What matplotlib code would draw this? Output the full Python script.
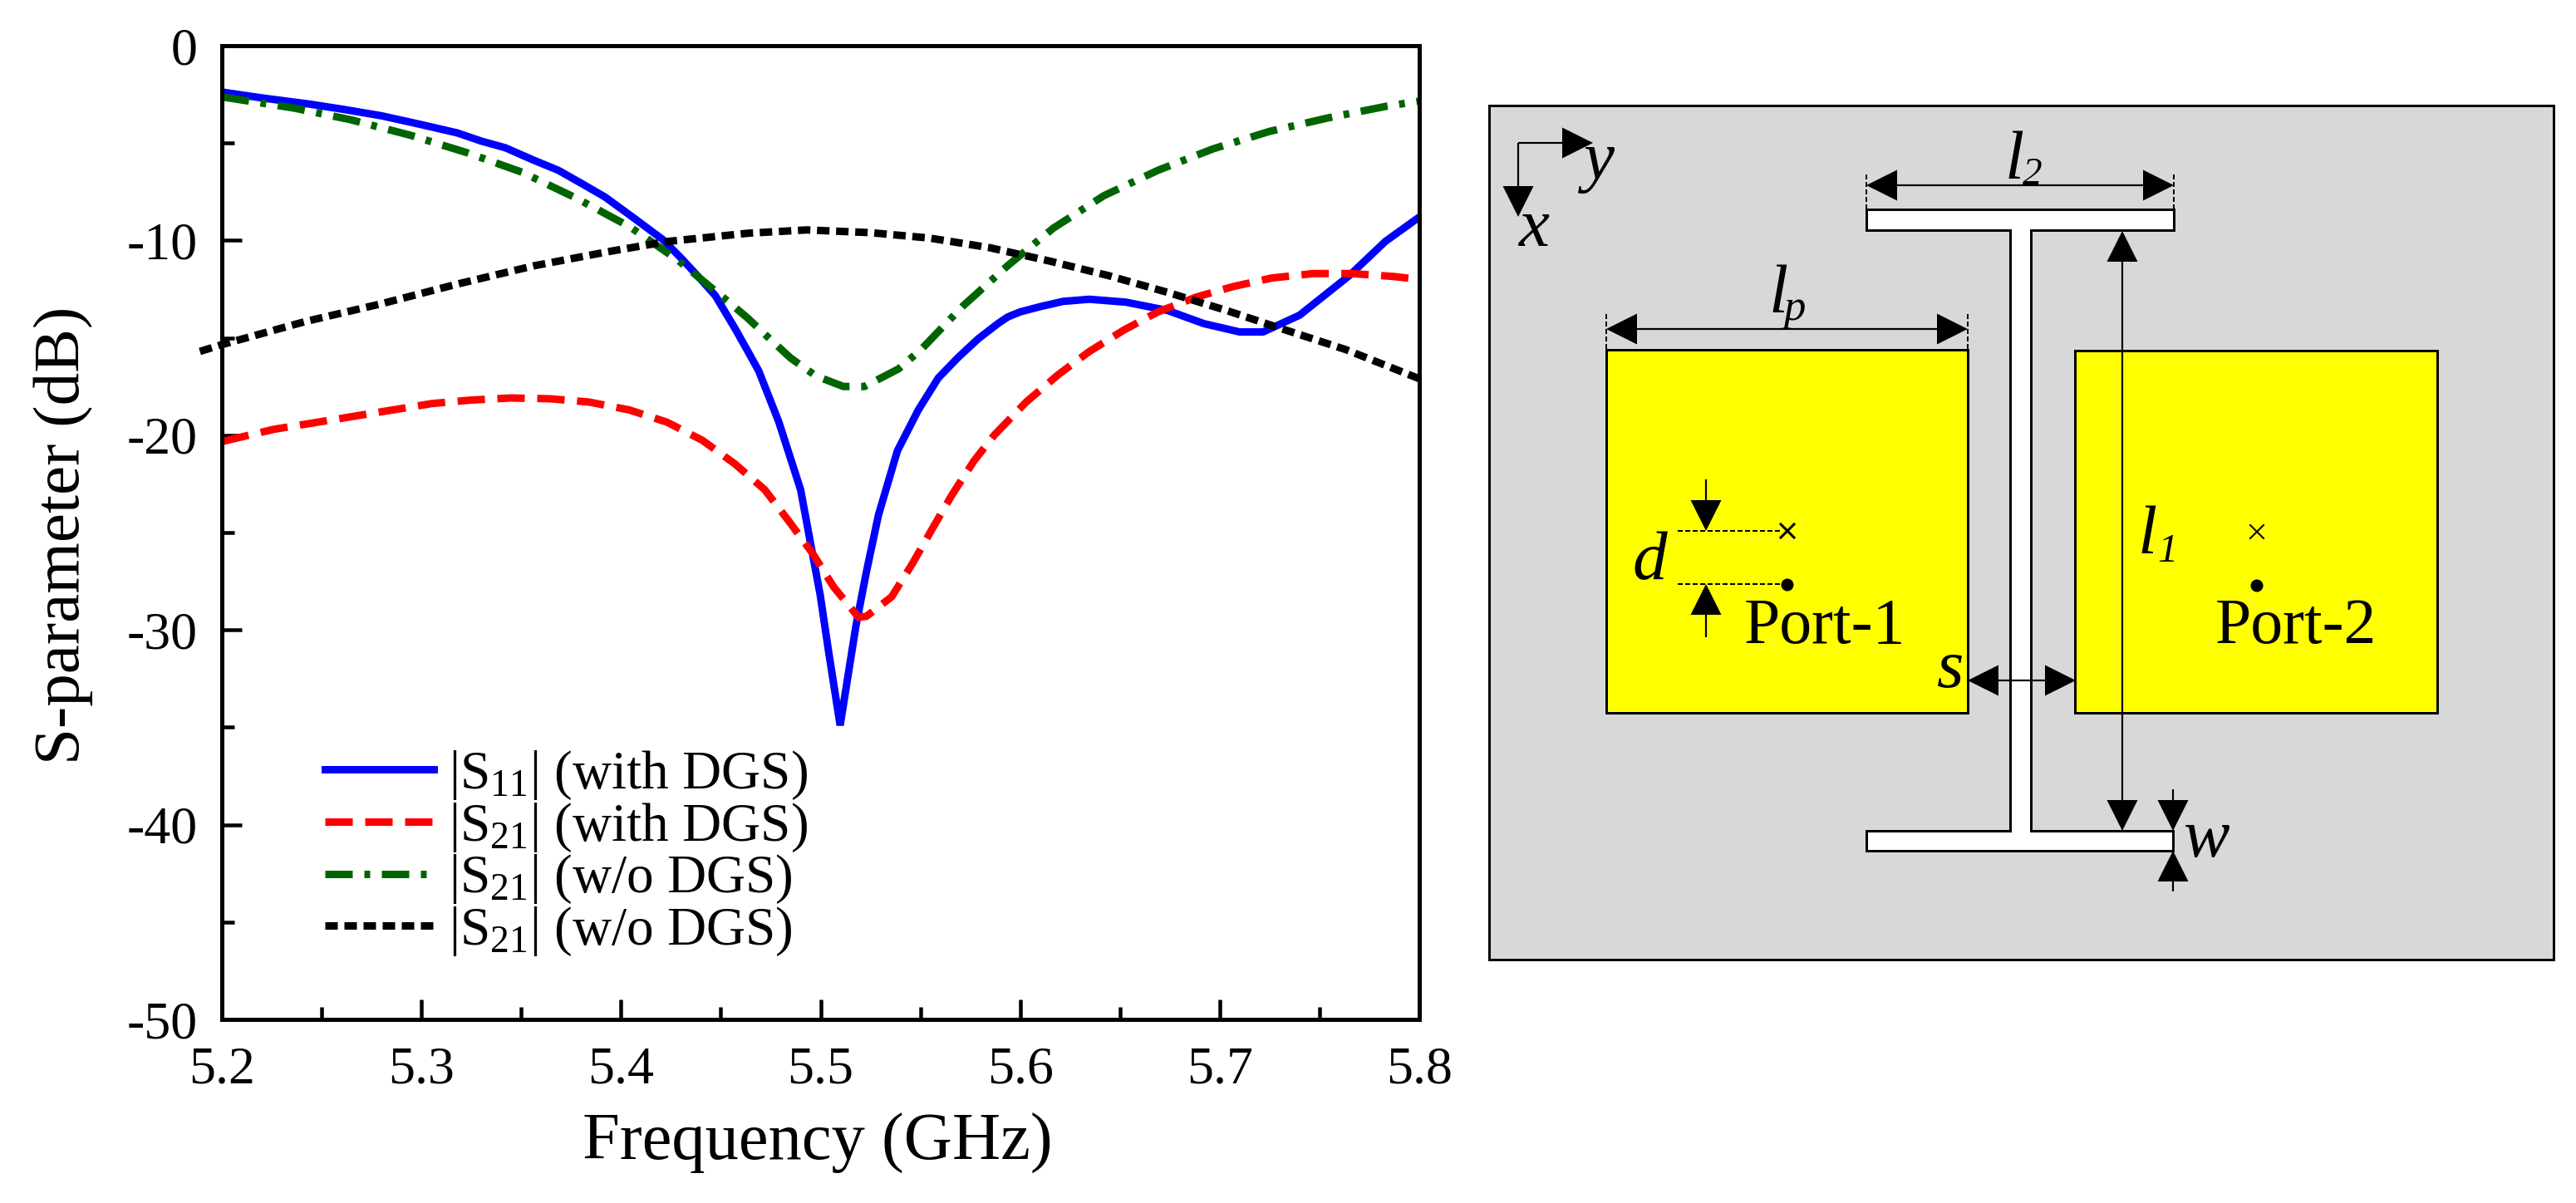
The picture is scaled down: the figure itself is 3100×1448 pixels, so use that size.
import matplotlib
matplotlib.use('Agg')
import matplotlib.pyplot as plt
from matplotlib.patches import Rectangle, Polygon, Circle
from matplotlib.ticker import MultipleLocator

plt.rcParams['font.family'] = ['Liberation Serif', 'DejaVu Serif']
plt.rcParams['mathtext.fontset'] = 'custom'
plt.rcParams['mathtext.rm'] = 'Liberation Serif'
plt.rcParams['mathtext.it'] = 'Liberation Serif:italic'
plt.rcParams['mathtext.default'] = 'rm'
plt.rcParams['axes.unicode_minus'] = False
plt.rcParams['lines.scale_dashes'] = False

W, H = 3100, 1448
PX = 0.72  # points per pixel at dpi 100

# curves
s11_f = [5.2, 5.22, 5.244, 5.261, 5.28, 5.299, 5.318, 5.33, 5.342, 5.3565, 5.3686, 5.38, 5.392, 5.4067, 5.421,
         5.4307, 5.44, 5.4473, 5.457, 5.4636, 5.469, 5.479, 5.49, 5.4956, 5.4998, 5.504, 5.5098, 5.5177, 5.523,
         5.529, 5.5385, 5.549, 5.559, 5.569, 5.579, 5.589, 5.5938, 5.6, 5.61, 5.6215, 5.6347, 5.653, 5.674,
         5.692, 5.71, 5.7217, 5.74, 5.765, 5.783, 5.8]
s11_db = [-2.38, -2.68, -3.0, -3.27, -3.6, -4.03, -4.48, -4.9, -5.24, -5.89, -6.4, -7.06, -7.77, -8.87, -9.96,
          -10.97, -12.0, -12.84, -14.5, -15.7, -16.7, -19.3, -22.8, -25.9, -28.2, -31.1, -34.9, -29.8, -27.0,
          -24.1, -20.8, -18.7, -17.06, -16.0, -15.05, -14.26, -13.93, -13.67, -13.4, -13.13, -13.02, -13.17, -13.6,
          -14.27, -14.7, -14.7, -13.84, -11.8, -10.05, -8.8]

s21_dgs_f = [5.2, 5.226, 5.265, 5.305, 5.3245, 5.3445, 5.3645, 5.384, 5.404, 5.423, 5.4407, 5.457, 5.472,
             5.484, 5.496, 5.5066, 5.519, 5.523, 5.5356, 5.546, 5.556, 5.566, 5.577, 5.587, 5.603, 5.619,
             5.6347, 5.652, 5.669, 5.6885, 5.7067, 5.726, 5.747, 5.766, 5.787, 5.8]
s21_dgs_db = [-20.33, -19.7, -19.05, -18.38, -18.2, -18.09, -18.13, -18.3, -18.7, -19.33, -20.26, -21.47,
              -22.8, -24.4, -26.07, -27.8, -29.35, -29.3, -28.3, -26.6, -24.8, -23.04, -21.3, -20.0, -18.3,
              -16.9, -15.7, -14.6, -13.67, -12.9, -12.37, -11.93, -11.7, -11.7, -11.85, -12.0]

s21_nodgs_f = [5.2, 5.236, 5.2645, 5.2945, 5.323, 5.3505, 5.378, 5.4044, 5.428, 5.4544, 5.4636, 5.474, 5.485,
               5.4977, 5.5114, 5.522, 5.539, 5.5504, 5.571, 5.5937, 5.6166, 5.642, 5.669, 5.6966, 5.725,
               5.7546, 5.784, 5.8]
s21_nodgs_db = [-2.63, -3.2, -3.8, -4.6, -5.5, -6.5, -7.85, -9.3, -10.97, -13.2, -14.0, -15.0, -16.04,
                -16.96, -17.5, -17.5, -16.6, -15.6, -13.4, -11.3, -9.37, -7.7, -6.4, -5.3, -4.4,
                -3.7, -3.1, -2.85]

s21_black_f = [5.189, 5.2, 5.2416, 5.28, 5.318, 5.3565, 5.395, 5.4236, 5.4636, 5.493, 5.525, 5.5547, 5.5846,
               5.6144, 5.644, 5.674, 5.7035, 5.733, 5.763, 5.8]
s21_black_db = [-15.7, -15.35, -14.17, -13.25, -12.24, -11.3, -10.55, -10.05, -9.63, -9.46, -9.6, -9.88,
                -10.37, -11.05, -11.8, -12.67, -13.6, -14.6, -15.6, -17.1]

legend_labels = ['|S$_{11}$| (with DGS)', '|S$_{21}$| (with DGS)', '|S$_{21}$| (w/o DGS)', '|S$_{21}$| (w/o DGS)']

# layout sketch on the right, in picture pixels
board = (1792, 127, 3073, 1155)
patches = [(1933, 421, 2368, 858), (2497, 422, 2933, 858)]
slot = [(2246, 252), (2616, 252), (2616, 277), (2444, 277), (2444, 1000), (2615, 1000), (2615, 1024),
        (2246, 1024), (2246, 1000), (2419, 1000), (2419, 277), (2246, 277)]
# tail, tip of each arrow
arrows = [((1827, 172), (1917, 172)), ((1827, 172), (1827, 261)),
          ((2431, 223), (2246, 223)), ((2431, 223), (2616, 223)),
          ((2150, 396), (1933, 396)), ((2150, 396), (2368, 396)),
          ((2053, 577), (2053, 639)), ((2053, 767), (2053, 703)),
          ((2433, 819), (2368, 819)), ((2433, 819), (2498, 819)),
          ((2554, 640), (2554, 278)), ((2554, 640), (2554, 1000)),
          ((2615, 950), (2615, 1000)), ((2615, 1073), (2615, 1024))]
dashed = [((2246, 210), (2246, 252)), ((2616, 210), (2616, 252)), ((1933, 378), (1933, 421)),
          ((2368, 378), (2368, 421)), ((2019, 639), (2143, 639)), ((2019, 703), (2143, 703))]
feed_x = [(2151, 639, 3.0), (2716, 640, 2.0)]
feed_dot = [(2151, 704), (2716, 705)]
# text, x, baseline y, size
italic_labels = [('y', 1906, 215, 60), ('x', 1827, 296, 60), ('l', 2413, 215, 60), ('2', 2434, 222, 34),
                 ('l', 2129, 376, 60), ('p', 2146, 385, 38), ('d', 1964, 697, 60), ('l', 2573, 666, 60),
                 ('1', 2596, 676, 35), ('s', 2331, 827, 60), ('w', 2628, 1031, 60)]
port_labels = [('Port-1', 2099, 774, 56), ('Port-2', 2666, 774, 56)]


def draw_arrow(ax, tail, tip, head=37, width=37):
    dx, dy = tip[0] - tail[0], tip[1] - tail[1]
    size = (dx ** 2 + dy ** 2) ** 0.5
    ux, uy = dx / size, dy / size
    base = (tip[0] - ux * head, tip[1] - uy * head)
    ax.plot([tail[0], base[0]], [tail[1], base[1]], color='k', lw=2.2 * PX, solid_capstyle='butt')
    ax.add_patch(Polygon([tip, (base[0] - uy * width / 2, base[1] + ux * width / 2),
                          (base[0] + uy * width / 2, base[1] - ux * width / 2)], closed=True, fc='k', ec='none'))


fig = plt.figure(figsize=(W / 100, H / 100), dpi=100, facecolor='white')

# sketch
ax2 = fig.add_axes([0, 0, 1, 1])
ax2.set_xlim(0, W)
ax2.set_ylim(H, 0)
ax2.axis('off')
x0, y0, x1, y1 = board
ax2.add_patch(Rectangle((x0, y0), x1 - x0, y1 - y0, fc='#D8D8D8', ec='k', lw=3 * PX))
for x0, y0, x1, y1 in patches:
    ax2.add_patch(Rectangle((x0, y0), x1 - x0, y1 - y0, fc='#FFFF00', ec='k', lw=3 * PX))
ax2.add_patch(Polygon(slot, closed=True, fc='white', ec='k', lw=3 * PX))
for a, b in dashed:
    ax2.plot([a[0], b[0]], [a[1], b[1]], color='k', lw=2 * PX, ls=(0, (6 * PX, 3 * PX)))
for tail, tip in arrows:
    draw_arrow(ax2, tail, tip)
for x, y, lw in feed_x:
    ax2.plot([x - 8, x + 8], [y - 8, y + 8], color='k', lw=lw * PX)
    ax2.plot([x - 8, x + 8], [y + 8, y - 8], color='k', lw=lw * PX)
for x, y in feed_dot:
    ax2.add_patch(Circle((x, y), 7.5, fc='k', ec='none'))
for txt, x, y, size in italic_labels:
    ax2.text(x, y, txt, fontsize=size, style='italic', ha='left', va='baseline')
for txt, x, y, size in port_labels:
    ax2.text(x, y, txt, fontsize=size, ha='left', va='baseline')

# S-parameter plot
ax = fig.add_axes([267 / W, 1 - 1227 / H, 1441 / W, 1172 / H])
ax.plot(s11_f, s11_db, color='#0000FF', lw=9 * PX, label=legend_labels[0], solid_joinstyle='bevel')
ax.plot(s21_dgs_f, s21_dgs_db, color='#FF0000', lw=9 * PX, ls=(0, (33 * PX, 15 * PX)), label=legend_labels[1])
ax.plot(s21_nodgs_f, s21_nodgs_db, color='#006400', lw=9 * PX,
        ls=(0, (33 * PX, 14 * PX, 7 * PX, 14 * PX)), label=legend_labels[2])
ax.plot(s21_black_f, s21_black_db, color='k', lw=9 * PX, ls=(0, (15 * PX, 8 * PX)), label=legend_labels[3],
        clip_on=False)

ax.set_xlim(5.2, 5.8)
ax.set_ylim(-50, 0)
ax.xaxis.set_major_locator(MultipleLocator(0.1))
ax.xaxis.set_minor_locator(MultipleLocator(0.05))
ax.yaxis.set_major_locator(MultipleLocator(10))
ax.yaxis.set_minor_locator(MultipleLocator(5))
ax.tick_params(which='major', direction='in', length=24 * PX, width=4.5 * PX, labelsize=46)
ax.tick_params(which='minor', direction='in', length=15 * PX, width=4.5 * PX)
ax.tick_params(axis='x', which='major', pad=33 * PX)
ax.tick_params(axis='y', which='major', pad=29 * PX)
ax.set_xticks([5.2, 5.3, 5.4, 5.5, 5.6, 5.7, 5.8], ['5.2', '5.3', '5.4', '5.5', '5.6', '5.7', '5.8'])
for spine in ax.spines.values():
    spine.set_linewidth(5 * PX)

ax.set_xlabel('Frequency (GHz)', fontsize=58, va='top')
ax.xaxis.set_label_coords(0.4976, -0.0964)
ax.set_ylabel('S-parameter (dB)', fontsize=57, va='bottom')
ax.yaxis.set_label_coords(-0.1076, 0.497)

ax.legend(loc='upper left', bbox_to_anchor=((391 - 267) / 1441, (1227 - 901) / 1172), frameon=False, fontsize=47,
          handlelength=2.0, handletextpad=0.28, labelspacing=-0.02, borderpad=0, borderaxespad=0)

fig.savefig('out.png', dpi=100)
